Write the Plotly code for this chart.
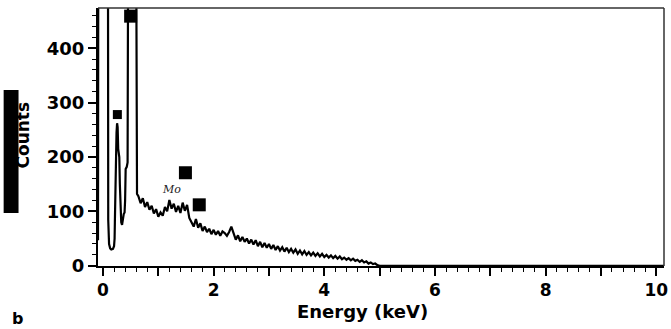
import plotly.graph_objects as go

# Spectrum: energies (keV) and counts
energy_keV = [
    -0.09, -0.085, 0.09, 0.095, 0.11, 0.13, 0.15, 0.18, 0.20, 0.21, 0.215, 0.225,
    0.235, 0.245, 0.255, 0.265, 0.275, 0.285, 0.295, 0.305, 0.315, 0.33, 0.345,
    0.36, 0.375, 0.39, 0.40, 0.41, 0.43, 0.445, 0.455, 0.60, 0.605, 0.615,
    0.64, 0.68, 0.72, 0.76, 0.80, 0.84, 0.88, 0.92, 0.96, 1.00,
    1.04, 1.08, 1.12, 1.16, 1.20, 1.24, 1.28, 1.32, 1.36, 1.40,
    1.44, 1.48, 1.52, 1.56, 1.60, 1.64, 1.68, 1.72, 1.76, 1.80,
    1.84, 1.88, 1.92, 1.96, 2.00, 2.04, 2.08, 2.12, 2.16, 2.20,
    2.24, 2.28, 2.32, 2.36, 2.40, 2.44, 2.48, 2.52, 2.56, 2.60,
    2.64, 2.68, 2.72, 2.76, 2.80, 2.84, 2.88, 2.92, 2.96, 3.00,
    3.04, 3.08, 3.12, 3.16, 3.20, 3.24, 3.28, 3.32, 3.36, 3.40,
    3.44, 3.48, 3.52, 3.56, 3.60, 3.64, 3.68, 3.72, 3.76, 3.80,
    3.84, 3.88, 3.92, 3.96, 4.00, 4.04, 4.08, 4.12, 4.16, 4.20,
    4.24, 4.28, 4.32, 4.36, 4.40, 4.44, 4.48, 4.52, 4.56, 4.60,
    4.64, 4.68, 4.72, 4.76, 4.80, 4.84, 4.88, 4.92, 4.96, 5.00,
    10.14,
]
counts = [
    47, 600, 600, 84, 40, 32, 30, 31, 36, 50, 80, 150,
    200, 245, 262, 255, 215, 210, 200, 150, 100, 80, 75,
    88, 95, 98, 120, 178, 182, 190, 600, 600, 140, 132,
    128, 115, 124, 108, 117, 103, 110, 96, 104, 90,
    98, 92, 108, 100, 121, 105, 114, 99, 110, 97,
    116, 101, 112, 88, 80, 72, 86, 70, 78, 64,
    72, 62, 68, 58, 66, 57, 64, 55, 63, 60,
    55, 62, 72, 58, 48, 56, 45, 53, 44, 50,
    41, 48, 39, 47, 36, 44, 34, 42, 33, 40,
    31, 38, 29, 36, 28, 34, 26, 33, 25, 31,
    24, 30, 22, 28, 21, 27, 20, 25, 19, 24,
    18, 23, 17, 22, 16, 20, 15, 19, 14, 18,
    13, 17, 12, 15, 11, 14, 10, 13, 9, 11,
    7, 10, 6, 8, 4, 6, 3, 4, 1, 0,
    0,
]

# Peak-label squares
marker_keV = [0.26, 0.50, 1.49, 1.74]
marker_counts = [278, 459, 171, 112]
marker_sizes = [9, 13, 13, 13]

x_tick_vals = [0, 1, 2, 3, 4, 5, 6, 7, 8, 9, 10]
x_tick_text = ["0", "", "2", "", "4", "", "6", "", "8", "", "10"]
y_tick_vals = [0, 100, 200, 300, 400]

FONT = "DejaVu Sans"

fig = go.Figure()
fig.add_trace(go.Scatter(
    x=energy_keV, y=counts, mode="lines",
    line=dict(color="black", width=2.2), showlegend=False,
))
fig.add_trace(go.Scatter(
    x=marker_keV, y=marker_counts, mode="markers",
    marker=dict(symbol="square", color="black", size=marker_sizes,
                opacity=1, line=dict(width=0)),
    showlegend=False, cliponaxis=False,
))

fig.update_layout(
    width=671, height=329,
    margin=dict(l=98, r=3, t=8, b=63),
    plot_bgcolor="white", paper_bgcolor="white",
    font=dict(family=FONT, color="black"),
    xaxis=dict(
        range=[-0.09, 10.14], tickvals=x_tick_vals, ticktext=x_tick_text,
        ticks="outside", ticklen=8, tickwidth=1.5, tickcolor="black",
        showline=True, linewidth=2, linecolor="black",
        showgrid=False, zeroline=False, ticklabeloverflow="allow",
        tickfont=dict(family=FONT, size=17, weight="bold", color="black"),
        minor=dict(dtick=0.2, ticks="outside", ticklen=4, tickwidth=1, tickcolor="black"),
    ),
    yaxis=dict(
        range=[-0.5, 474], tickvals=y_tick_vals,
        ticks="outside", ticklen=8, tickwidth=1.5, tickcolor="black",
        showline=True, linewidth=2, linecolor="black",
        showgrid=False, zeroline=False,
        tickfont=dict(family=FONT, size=18, weight="bold", color="black"),
        minor=dict(dtick=20, ticks="outside", ticklen=4, tickwidth=1, tickcolor="black"),
    ),
    shapes=[
        dict(type="line", xref="paper", yref="paper", x0=0, x1=1, y0=1, y1=1,
             line=dict(color="#333", width=1.5)),
        dict(type="line", xref="paper", yref="paper", x0=1, x1=1, y0=0, y1=1,
             line=dict(color="#333", width=1.5)),
        dict(type="rect", xref="paper", yref="paper",
             x0=-0.1667, x1=-0.1404, y0=0.2054, y1=0.682,
             fillcolor="black", line=dict(width=0), layer="above"),
    ],
    annotations=[
        dict(text="Counts", xref="paper", yref="paper", x=-0.1333, y=0.508,
             textangle=-90, showarrow=False, xanchor="center", yanchor="middle",
             font=dict(family=FONT, size=17, weight="bold", color="black")),
        dict(text="Energy (keV)", xref="paper", yref="paper", x=0.468, y=-0.176,
             showarrow=False, xanchor="center", yanchor="middle",
             font=dict(family=FONT, size=18, weight="bold", color="black")),
        dict(text="b", xref="paper", yref="paper", x=-0.142, y=-0.2016,
             showarrow=False, xanchor="center", yanchor="middle",
             font=dict(family=FONT, size=16, weight="bold", color="black")),
        dict(text="<i>Mo</i>", xref="x", yref="y", x=1.24, y=140,
             showarrow=False, xanchor="center", yanchor="middle",
             font=dict(family="DejaVu Serif", size=11, color="#222")),
    ],
)

fig.write_html(
    "out.html",
    config={"displayModeBar": False},
    post_script="document.body.style.margin='0';document.body.style.overflow='hidden';",
)
